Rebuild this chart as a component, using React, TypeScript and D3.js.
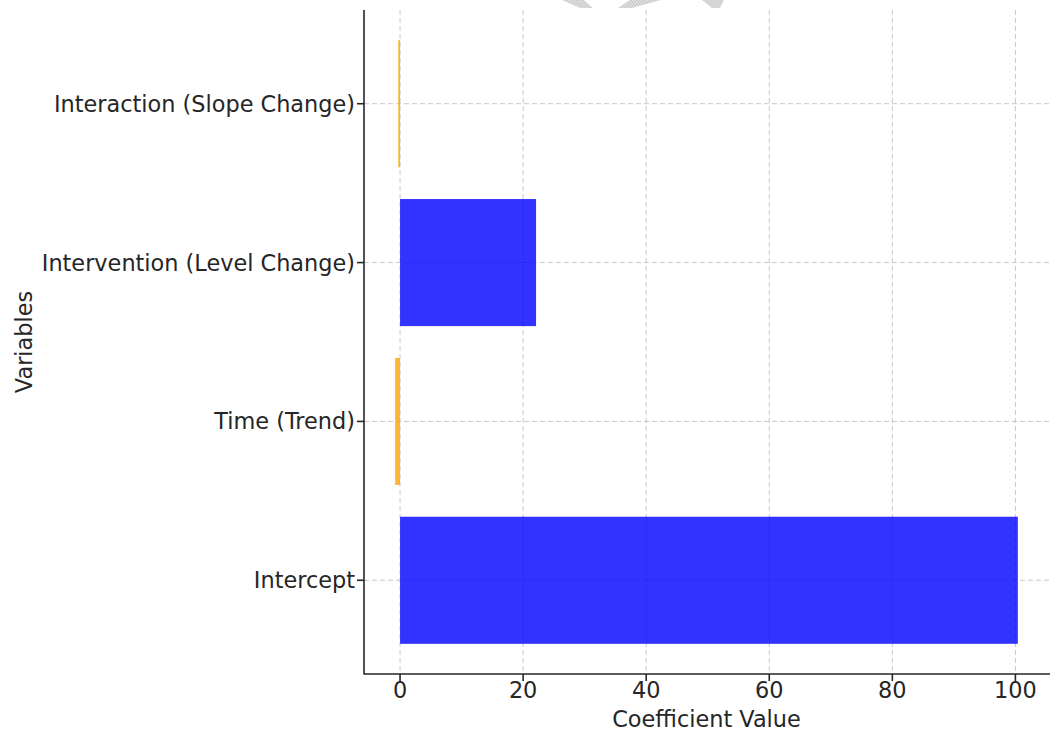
import React from "react";
import * as d3 from "d3";

const categories = ["Intercept", "Time (Trend)", "Intervention (Level Change)", "Interaction (Slope Change)"];
const coefficients = [100.4, -0.8, 22.1, -0.3];
const xTicks = [0, 20, 40, 60, 80, 100];

const W = 1050;
const H = 733;
const M = { left: 364, right: 1049, top: 10, bottom: 674 };

export default function App() {
  const x = d3.scaleLinear().domain([-5.86, 105.46]).range([M.left, M.right]);
  const y = d3.scaleLinear().domain([-0.59, 3.59]).range([M.bottom, M.top]);
  const barH = y(0) - y(0.8);
  const font = "DejaVu Sans, sans-serif";
  const txt = "#262626";
  const fs = 22.4;

  return (
    <svg width={W} height={H} style={{ position: "absolute", left: 0, top: 0 }} fontFamily={font}>
      <defs>
        <pattern id="wm" width="3" height="3" patternUnits="userSpaceOnUse">
          <rect width="3" height="3" fill="#e6e6e6" />
          <rect width="1.5" height="1.5" fill="#c4c4c4" />
          <rect x="1.5" y="1.5" width="1.5" height="1.5" fill="#c4c4c4" />
        </pattern>
      </defs>
      <rect width={W} height={H} fill="#fff" />
      {/* watermark fragments */}
      <polygon points="562,0 584,0 593,8 580,8" fill="url(#wm)" />
      <polygon points="630,0 661,0 632,8 618,8" fill="url(#wm)" />
      <polygon points="702,0 724,0 720,8 712,8" fill="url(#wm)" />
      {/* grid */}
      {xTicks.map((t) => (
        <line key={"gx" + t} x1={x(t)} x2={x(t)} y1={M.top} y2={M.bottom} stroke="#c8c8c8" strokeWidth={1} strokeDasharray="5,3" />
      ))}
      {categories.map((c, i) => (
        <line key={"gy" + i} x1={M.left} x2={M.right} y1={y(i)} y2={y(i)} stroke="#c8c8c8" strokeWidth={1} strokeDasharray="5,3" />
      ))}
      {/* bars */}
      {coefficients.map((v, i) => (
        <rect
          key={"b" + i}
          x={Math.min(x(0), x(v))}
          width={Math.abs(x(v) - x(0))}
          y={y(i) - barH / 2}
          height={barH}
          fill={v >= 0 ? "blue" : "orange"}
          fillOpacity={0.8}
        />
      ))}
      {/* spines */}
      <line x1={M.left} x2={M.left} y1={M.top} y2={M.bottom + 0.5} stroke={txt} strokeWidth={1.6} />
      <line x1={M.left} x2={W} y1={M.bottom} y2={M.bottom} stroke={txt} strokeWidth={1.6} />
      {/* x ticks */}
      {xTicks.map((t) => (
        <g key={"xt" + t}>
          <line x1={x(t)} x2={x(t)} y1={M.bottom} y2={M.bottom + 7} stroke={txt} strokeWidth={1.6} />
          <text x={x(t)} y={698} textAnchor="middle" fontSize={fs} fill={txt}>
            {t}
          </text>
        </g>
      ))}
      {/* y ticks */}
      {categories.map((c, i) => (
        <g key={"yt" + i}>
          <line x1={M.left - 7} x2={M.left} y1={y(i)} y2={y(i)} stroke={txt} strokeWidth={1.6} />
          <text x={355} y={y(i)} dy="0.36em" textAnchor="end" fontSize={fs} fill={txt}>
            {c}
          </text>
        </g>
      ))}
      <text x={(M.left + M.right) / 2} y={727} textAnchor="middle" fontSize={fs} fill={txt}>
        Coefficient Value
      </text>
      <text transform={`translate(32, ${(M.top + M.bottom) / 2}) rotate(-90)`} textAnchor="middle" fontSize={fs} fill={txt}>
        Variables
      </text>
    </svg>
  );
}
